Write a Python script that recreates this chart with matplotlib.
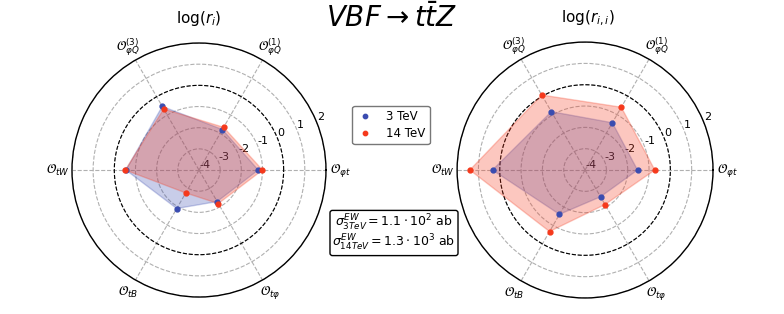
import numpy as np
import matplotlib
matplotlib.use("Agg")
import matplotlib.pyplot as plt

labels = [r'$\mathcal{O}_{\varphi t}$', r'$\mathcal{O}_{\varphi Q}^{(1)}$', r'$\mathcal{O}_{\varphi Q}^{(3)}$',
          r'$\mathcal{O}_{tW}$', r'$\mathcal{O}_{tB}$', r'$\mathcal{O}_{t\varphi}$']
left_3tev = [-1.2, -1.79, -0.53, -0.55, -1.9, -2.28]
left_14tev = [-1.0, -1.67, -0.67, -0.52, -2.75, -2.17]
right_3tev = [-1.54, -1.44, -0.84, 0.34, -1.6, -2.55]
right_14tev = [-0.73, -0.6, 0.06, 1.4, -0.67, -2.13]
rticks = [-4, -3, -2, -1, 0, 1, 2]

blue = '#3a4cb0'
red = '#f5391c'

fig = plt.figure(figsize=(7.84, 3.14), dpi=100)
n = len(labels)
angles = np.arange(n) * 2 * np.pi / n


def draw(ax, a, b):
    ax.set_ylim(-4, 2)
    ax.set_yticks(rticks)
    ax.set_yticklabels([str(t) for t in rticks], fontsize=8)
    ax.set_rlabel_position(22)
    ax.set_xticks(angles)
    ax.set_xticklabels(labels, fontsize=9)
    ax.tick_params(axis='x', pad=0)
    ax.grid(True, linestyle='--', color='#b0b0b0', linewidth=0.8)
    ax.spines['polar'].set_color('black')
    ax.spines['polar'].set_linewidth(1.0)
    th = np.linspace(0, 2 * np.pi, 300)
    ax.plot(th, np.zeros_like(th), color='black', linestyle='--', linewidth=0.8, zorder=2)
    ang = np.concatenate([angles, angles[:1]])
    for vals, c, lab in [(a, blue, '3 TeV'), (b, red, '14 TeV')]:
        v = np.concatenate([vals, vals[:1]])
        ax.fill(ang, v, color=c, alpha=0.28, linewidth=1, zorder=3)
        ax.plot(angles, vals, 'o', color=c, markersize=3.5, label=lab, zorder=4)


ax1 = fig.add_axes([0.0918, 0.054, 0.324, 0.809], projection='polar')
draw(ax1, left_3tev, left_14tev)
ax2 = fig.add_axes([0.583, 0.051, 0.3265, 0.815], projection='polar')
draw(ax2, right_3tev, right_14tev)

fig.text(199 / 784, 1 - 18 / 314, r'$\log(r_i)$', ha='center', va='center', fontsize=11)
fig.text(588 / 784, 1 - 18 / 314, r'$\log(r_{i,i})$', ha='center', va='center', fontsize=11)
fig.text(392 / 784, 1 - 18 / 314, r'$VBF \rightarrow t\bar{t}Z$', ha='center', va='center', fontsize=20)

h, l = ax1.get_legend_handles_labels()
fig.legend(h, l, loc='center', bbox_to_anchor=(391 / 784, 1 - 125 / 314), fontsize=8.5,
           frameon=True, edgecolor='#555555', fancybox=True, handletextpad=1.0,
           handlelength=1.5, markerscale=0.9, borderpad=0.35, labelspacing=0.3)

fig.text(394 / 784, 1 - 233 / 314,
         '$\\sigma^{EW}_{3TeV} = 1.1\\cdot 10^2$ ab\n$\\sigma^{EW}_{14TeV} = 1.3\\cdot 10^3$ ab',
         ha='center', va='center', fontsize=9, linespacing=1.0,
         bbox=dict(boxstyle='round,pad=0.2', facecolor='white', edgecolor='black'))

fig.savefig('out.png', dpi=100)
